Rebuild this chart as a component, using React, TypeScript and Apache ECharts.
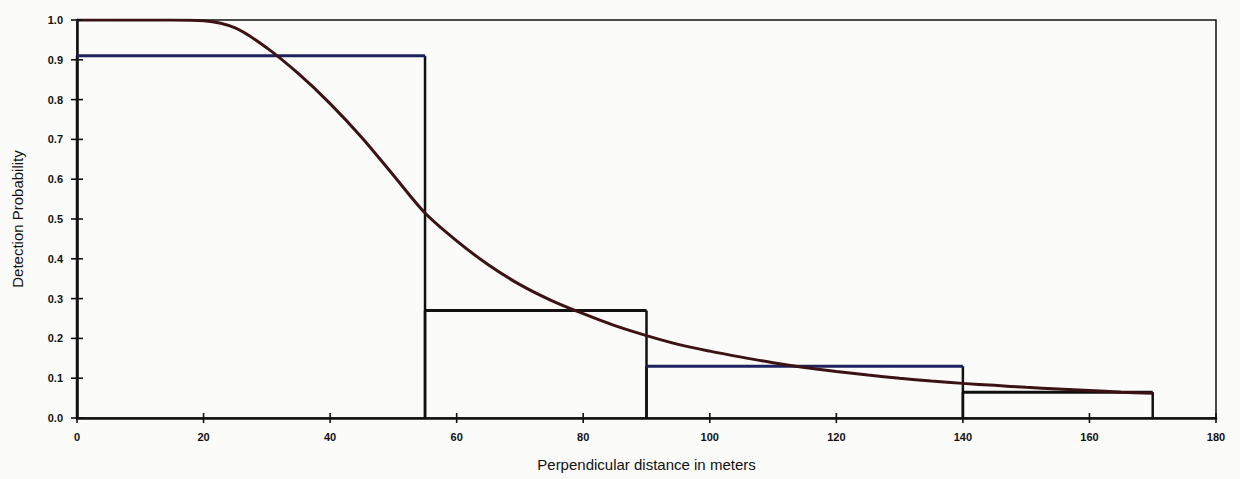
import React, { useEffect, useRef } from "react";
import * as echarts from "echarts";

const xTicks = [0, 20, 40, 60, 80, 100, 120, 140, 160, 180];
const yTicks = [0, 0.1, 0.2, 0.3, 0.4, 0.5, 0.6, 0.7, 0.8, 0.9, 1.0];

// histogram bins: [start, end, height]
const binStarts = [0, 55, 90, 140];
const binEnds = [55, 90, 140, 170];
const binHeights = [0.91, 0.27, 0.13, 0.065];
const binTopColors = ["#1f2260", "#111111", "#1f2260", "#111111"];

// fitted detection function
const curveX = [0, 5, 10, 15, 20, 25, 30, 35, 40, 45, 50, 55, 60, 65, 70, 75, 80, 85, 90, 95, 100, 105, 110, 115, 120, 125, 130, 135, 140, 145, 150, 155, 160, 165, 170];
const curveY = [1.0, 1.0, 1.0, 1.0, 0.998, 0.98, 0.93, 0.865, 0.79, 0.705, 0.61, 0.515, 0.445, 0.385, 0.335, 0.295, 0.262, 0.232, 0.207, 0.185, 0.168, 0.153, 0.139, 0.127, 0.117, 0.108, 0.1, 0.093, 0.087, 0.082, 0.077, 0.073, 0.069, 0.065, 0.062];

export default function App() {
  const ref = useRef<HTMLDivElement>(null);
  useEffect(() => {
    document.body.style.margin = "0";
    const chart = echarts.init(ref.current!, null, { renderer: "svg" });
    const font = "Liberation Sans, Arial, sans-serif";
    const binData = binStarts.map((s, i) => [s, binEnds[i], binHeights[i], i]);
    // tick crosses: [axis (0 = x, 1 = y), value]
    const tickData = [
      ...xTicks.map((v) => [0, v]),
      ...yTicks.map((v) => [1, v]),
    ];
    chart.setOption({
      animation: false,
      backgroundColor: "#fbfbfa",
      grid: {
        left: 77,
        right: 24,
        top: 20,
        bottom: 61,
        show: true,
        borderColor: "#111",
        borderWidth: 1.5,
        backgroundColor: "transparent",
      },
      xAxis: {
        type: "value",
        min: 0,
        max: 180,
        interval: 20,
        splitLine: { show: false },
        name: "Perpendicular distance in meters",
        nameLocation: "middle",
        nameGap: 39,
        nameTextStyle: { fontFamily: font, fontSize: 15, color: "#111" },
        axisLine: { show: true, lineStyle: { color: "#111", width: 2.5 } },
        axisTick: { show: false },
        axisLabel: {
          fontFamily: font,
          fontSize: 11,
          fontWeight: "bold",
          color: "#111",
          margin: 13,
          formatter: (v: number) => (xTicks.includes(v) ? String(v) : ""),
        },
      },
      yAxis: {
        type: "value",
        min: 0,
        max: 1,
        interval: 0.1,
        splitLine: { show: false },
        name: "Detection Probability",
        nameLocation: "middle",
        nameGap: 52,
        nameTextStyle: { fontFamily: font, fontSize: 15, color: "#111" },
        axisLine: { show: true, lineStyle: { color: "#111", width: 2.5 } },
        axisTick: { show: false },
        axisLabel: {
          fontFamily: font,
          fontSize: 11,
          fontWeight: "bold",
          color: "#111",
          margin: 14,
          formatter: (v: number) => {
            const t = yTicks.find((y) => Math.abs(y - v) < 1e-6);
            return t === undefined ? "" : t.toFixed(1);
          },
        },
      },
      series: [
        {
          type: "custom",
          data: tickData,
          z: 4,
          silent: true,
          renderItem: (params: any, api: any) => {
            const axis = api.value(0);
            const v = api.value(1);
            const p = axis === 0 ? api.coord([v, 0]) : api.coord([0, v]);
            const pts =
              axis === 0
                ? [[p[0], p[1] - 5], [p[0], p[1] + 5]]
                : [[p[0] - 6, p[1]], [p[0] + 6, p[1]]];
            return {
              type: "polyline",
              shape: { points: pts },
              style: { stroke: "#111", lineWidth: 1.6, fill: null },
            };
          },
        },
        {
          type: "custom",
          data: binData,
          z: 2,
          renderItem: (params: any, api: any) => {
            const x0 = api.value(0);
            const x1 = api.value(1);
            const h = api.value(2);
            const idx = api.value(3);
            const bl = api.coord([x0, 0]);
            const tl = api.coord([x0, h]);
            const tr = api.coord([x1, h]);
            const br = api.coord([x1, 0]);
            return {
              type: "group",
              children: [
                {
                  type: "polyline",
                  shape: { points: [bl, tl] },
                  style: { stroke: "#111", lineWidth: 2.5, fill: null },
                },
                {
                  type: "polyline",
                  shape: { points: [tr, br] },
                  style: { stroke: "#111", lineWidth: 2.5, fill: null },
                },
                {
                  type: "polyline",
                  shape: { points: [tl, tr] },
                  style: { stroke: binTopColors[idx], lineWidth: 3, fill: null },
                },
              ],
            };
          },
        },
        {
          type: "line",
          data: curveX.map((x, i) => [x, curveY[i]]),
          smooth: 0.3,
          showSymbol: false,
          z: 3,
          lineStyle: { color: "#3d1214", width: 3 },
        },
      ],
    });
    return () => chart.dispose();
  }, []);
  return <div ref={ref} style={{ width: 1240, height: 479 }} />;
}
